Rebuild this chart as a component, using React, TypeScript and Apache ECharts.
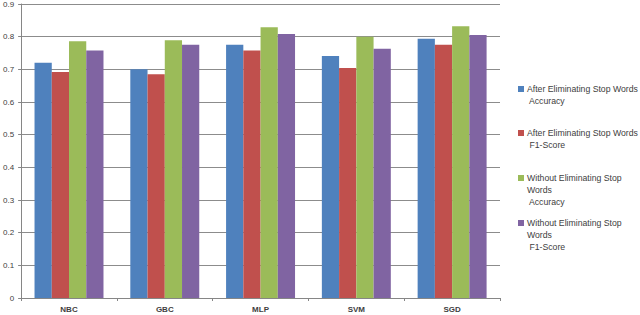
import React, { useEffect, useRef } from "react";
import * as echarts from "echarts";

const categories = ["NBC", "GBC", "MLP", "SVM", "SGD"];
const afterAccuracy = [0.72, 0.7, 0.775, 0.741, 0.794];
const afterF1 = [0.692, 0.685, 0.758, 0.704, 0.775];
const withoutAccuracy = [0.786, 0.789, 0.829, 0.8, 0.832];
const withoutF1 = [0.758, 0.775, 0.808, 0.763, 0.805];
const seriesNames = [
  "After Eliminating Stop Words\n Accuracy",
  "After Eliminating Stop Words\n F1-Score",
  "Without Eliminating Stop\nWords\n Accuracy",
  "Without Eliminating Stop\nWords\n F1-Score",
];
const yTicks = [0, 0.1, 0.2, 0.3, 0.4, 0.5, 0.6, 0.7, 0.8, 0.9];

const colors = ["#4F81BD", "#C0504D", "#9BBB59", "#8064A2"];
const legendFirstLineY = [89, 133, 178, 223];
const LH = 12;

export default function App() {
  const ref = useRef<HTMLDivElement>(null);
  useEffect(() => {
    if (!ref.current) return;
    const chart = echarts.init(ref.current, undefined, { renderer: "svg" });
    const values = [afterAccuracy, afterF1, withoutAccuracy, withoutF1];
    const legends = seriesNames.map((name, i) => {
      const n = name.split("\n").length;
      const padded = "\n".repeat(n - 1) + name;
      return {
        show: true,
        orient: "vertical",
        left: 518,
        top: legendFirstLineY[i] - (n - 0.5) * LH,
        padding: 0,
        itemWidth: 6,
        itemHeight: 6,
        itemGap: 3,
        icon: "rect",
        selectedMode: false,
        data: [name],
        formatter: () => padded,
        textStyle: {
          fontFamily: "Liberation Sans",
          fontSize: 8.7,
          color: "#404040",
          lineHeight: LH,
          padding: [0, 0, 0, -2],
        },
      };
    });
    chart.setOption({
      animation: false,
      color: colors,
      grid: { left: 21, right: 140, top: 2, bottom: 17, containLabel: false },
      legend: legends,
      xAxis: {
        type: "category",
        data: categories,
        axisLine: { lineStyle: { color: "#868686" } },
        axisTick: { show: true, length: 3, lineStyle: { color: "#868686" } },
        axisLabel: {
          fontFamily: "Liberation Sans",
          fontSize: 8,
          fontWeight: "bold",
          color: "#404040",
          margin: 7,
        },
      },
      yAxis: {
        type: "value",
        min: 0,
        max: 0.9,
        interval: 0.1,
        axisLine: { show: true, lineStyle: { color: "#868686" } },
        axisTick: { show: true, length: 3, lineStyle: { color: "#868686" } },
        splitLine: { show: true, lineStyle: { color: "#8c8c8c", width: 1 } },
        axisLabel: {
          fontFamily: "Liberation Sans",
          fontSize: 8,
          color: "#404040",
          margin: 7,
          formatter: (v: number) => {
            const t = yTicks.find((x) => Math.abs(x - v) < 1e-9);
            return String(t !== undefined ? t : v);
          },
        },
      },
      series: seriesNames.map((name, i) => ({
        name,
        type: "bar",
        data: values[i],
        barGap: "0%",
        barCategoryGap: "28%",
        itemStyle: { color: colors[i] },
      })),
    });
    return () => chart.dispose();
  }, []);
  return (
    <div
      ref={ref}
      style={{ position: "fixed", left: 0, top: 0, width: 640, height: 315, background: "#fff" }}
    />
  );
}
